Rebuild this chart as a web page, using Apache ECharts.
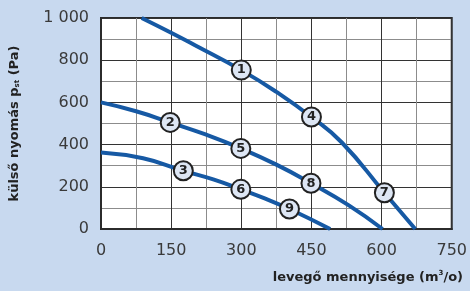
<!DOCTYPE html>
<html>
<head>
<meta charset="utf-8">
<script src="https://cdn.jsdelivr.net/npm/echarts@6/dist/echarts.min.js"></script>
<style>
  html, body { margin: 0; padding: 0; background: #c8d9ef; }
  #chart { width: 470px; height: 291px; }
</style>
</head>
<body>
<div id="chart"></div>
<script>
// fan curves, [air flow m3/h, external pressure Pa]
var curveHigh = [[87, 1000], [150, 930], [200, 872], [300, 753], [375, 650], [450, 531], [515, 410], [606, 172], [672, 0]];
var curveMid = [[0, 600], [75, 558], [148, 505], [225, 447], [299, 382], [375, 305], [449, 217], [530, 112], [602, 0]];
var curveLow = [[0, 363], [90, 335], [176, 276], [240, 235], [299, 188], [350, 145], [403, 95], [490, 0]];
// numbered operating points
var pointNames = ['1', '2', '3', '4', '5', '6', '7', '8', '9'];
var pointValues = [[300, 753], [148, 505], [176, 276], [450, 531], [299, 382], [299, 188], [606, 172], [449, 217], [403, 95]];
var xTicks = [0, 150, 300, 450, 600, 750];
var yTicks = [0, 200, 400, 600, 800, 1000];

var chart = echarts.init(document.getElementById('chart'));

var lineColor = '#1659a4';
var font = 'DejaVu Sans';

function curve(data) {
    return {
        type: 'line',
        data: data,
        smooth: true,
        symbol: 'none',
        lineStyle: {color: lineColor, width: 4},
        z: 3
    };
}

var points = pointValues.map(function (v, i) {
    return {name: pointNames[i], value: v};
});

chart.setOption({
    backgroundColor: '#c8d9ef',
    animation: false,
    grid: {
        left: 101,
        right: 15,
        top: 18,
        bottom: 62,
        show: true,
        backgroundColor: '#ffffff',
        borderColor: '#2b2b2b',
        borderWidth: 2
    },
    xAxis: {
        type: 'value',
        min: 0,
        max: 750,
        interval: 75,
        axisLine: {show: true, lineStyle: {color: '#2b2b2b', width: 2}},
        axisTick: {show: false},
        splitLine: {show: true, lineStyle: {color: ['#333333', '#8c8c8c'], width: 1}},
        axisLabel: {
            margin: 14,
            color: '#3a3a3a',
            fontFamily: font,
            fontSize: 16,
            formatter: function (v) {
                return xTicks.indexOf(v) >= 0 ? String(v) : '';
            }
        }
    },
    yAxis: {
        type: 'value',
        min: 0,
        max: 1000,
        interval: 100,
        name: 'külső nyomás p{sub|st} (Pa)',
        nameLocation: 'middle',
        nameGap: 80,
        nameTextStyle: {
            color: '#222222',
            fontFamily: font,
            fontSize: 13,
            fontWeight: 'bold',
            rich: {
                sub: {fontSize: 7, fontWeight: 'bold', color: '#222222', fontFamily: font, verticalAlign: 'bottom', padding: [6, 0, 0, 0]}
            }
        },
        axisLine: {show: true, lineStyle: {color: '#2b2b2b', width: 2}},
        axisTick: {show: false},
        splitLine: {show: true, lineStyle: {color: ['#333333', '#8c8c8c'], width: 1}},
        axisLabel: {
            margin: 12,
            color: '#3a3a3a',
            fontFamily: font,
            fontSize: 16,
            formatter: function (v) {
                if (yTicks.indexOf(v) < 0) return '';
                return v === 1000 ? '1 000' : String(v);
            }
        }
    },
    graphic: [{
        type: 'text',
        right: 7,
        top: 270,
        style: {
            text: 'levegő mennyisége (m{sup|3}/o)',
            fill: '#222222',
            font: 'bold 13px "DejaVu Sans"',
            rich: {
                sup: {fontSize: 7, fontWeight: 'bold', fill: '#222222', fontFamily: font, verticalAlign: 'top', padding: [0, 0, 8, 0]}
            }
        }
    }],
    series: [
        curve(curveHigh),
        curve(curveMid),
        curve(curveLow),
        {
            type: 'scatter',
            data: points,
            symbol: 'circle',
            symbolSize: 19,
            itemStyle: {color: '#dde6f4', borderColor: '#222222', borderWidth: 2, opacity: 1},
            label: {
                show: true,
                position: 'inside',
                formatter: '{b}',
                color: '#222222',
                fontFamily: font,
                fontSize: 13,
                fontWeight: 'bold'
            },
            z: 5
        }
    ]
});
</script>
</body>
</html>
